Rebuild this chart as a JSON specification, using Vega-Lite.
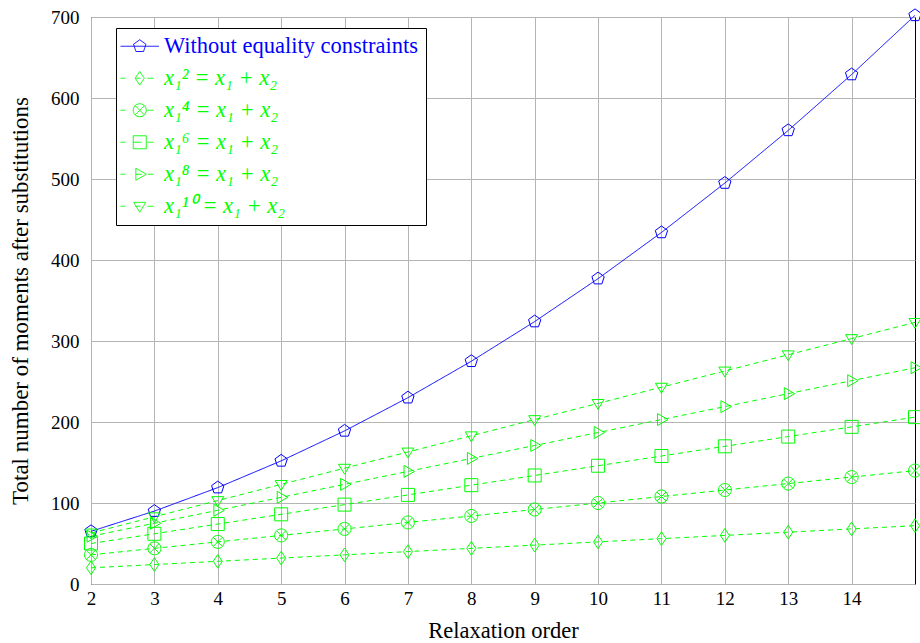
{
  "$schema": "https://vega.github.io/schema/vega-lite/v6.json",
  "width": 824,
  "height": 567,
  "autosize": {"type": "none"},
  "padding": {"left": 91, "top": 17, "right": 5, "bottom": 59},
  "background": "white",
  "config": {
    "view": {"stroke": "black", "strokeWidth": 1},
    "font": "Liberation Serif"
  },
  "data": {
    "values": [
      {"order": 2, "moments": 65, "series": "Without equality constraints"},
      {"order": 3, "moments": 90, "series": "Without equality constraints"},
      {"order": 4, "moments": 119, "series": "Without equality constraints"},
      {"order": 5, "moments": 152, "series": "Without equality constraints"},
      {"order": 6, "moments": 189, "series": "Without equality constraints"},
      {"order": 7, "moments": 230, "series": "Without equality constraints"},
      {"order": 8, "moments": 275, "series": "Without equality constraints"},
      {"order": 9, "moments": 324, "series": "Without equality constraints"},
      {"order": 10, "moments": 377, "series": "Without equality constraints"},
      {"order": 11, "moments": 434, "series": "Without equality constraints"},
      {"order": 12, "moments": 495, "series": "Without equality constraints"},
      {"order": 13, "moments": 560, "series": "Without equality constraints"},
      {"order": 14, "moments": 629, "series": "Without equality constraints"},
      {"order": 15, "moments": 702, "series": "Without equality constraints"},

      {"order": 2, "moments": 20, "series": "x₁² = x₁ + x₂"},
      {"order": 3, "moments": 24, "series": "x₁² = x₁ + x₂"},
      {"order": 4, "moments": 28, "series": "x₁² = x₁ + x₂"},
      {"order": 5, "moments": 32, "series": "x₁² = x₁ + x₂"},
      {"order": 6, "moments": 36, "series": "x₁² = x₁ + x₂"},
      {"order": 7, "moments": 40, "series": "x₁² = x₁ + x₂"},
      {"order": 8, "moments": 44, "series": "x₁² = x₁ + x₂"},
      {"order": 9, "moments": 48, "series": "x₁² = x₁ + x₂"},
      {"order": 10, "moments": 52, "series": "x₁² = x₁ + x₂"},
      {"order": 11, "moments": 56, "series": "x₁² = x₁ + x₂"},
      {"order": 12, "moments": 60, "series": "x₁² = x₁ + x₂"},
      {"order": 13, "moments": 64, "series": "x₁² = x₁ + x₂"},
      {"order": 14, "moments": 68, "series": "x₁² = x₁ + x₂"},
      {"order": 15, "moments": 72, "series": "x₁² = x₁ + x₂"},

      {"order": 2, "moments": 36, "series": "x₁⁴ = x₁ + x₂"},
      {"order": 3, "moments": 44, "series": "x₁⁴ = x₁ + x₂"},
      {"order": 4, "moments": 52, "series": "x₁⁴ = x₁ + x₂"},
      {"order": 5, "moments": 60, "series": "x₁⁴ = x₁ + x₂"},
      {"order": 6, "moments": 68, "series": "x₁⁴ = x₁ + x₂"},
      {"order": 7, "moments": 76, "series": "x₁⁴ = x₁ + x₂"},
      {"order": 8, "moments": 84, "series": "x₁⁴ = x₁ + x₂"},
      {"order": 9, "moments": 92, "series": "x₁⁴ = x₁ + x₂"},
      {"order": 10, "moments": 100, "series": "x₁⁴ = x₁ + x₂"},
      {"order": 11, "moments": 108, "series": "x₁⁴ = x₁ + x₂"},
      {"order": 12, "moments": 116, "series": "x₁⁴ = x₁ + x₂"},
      {"order": 13, "moments": 124, "series": "x₁⁴ = x₁ + x₂"},
      {"order": 14, "moments": 132, "series": "x₁⁴ = x₁ + x₂"},
      {"order": 15, "moments": 140, "series": "x₁⁴ = x₁ + x₂"},

      {"order": 2, "moments": 50, "series": "x₁⁶ = x₁ + x₂"},
      {"order": 3, "moments": 62, "series": "x₁⁶ = x₁ + x₂"},
      {"order": 4, "moments": 74, "series": "x₁⁶ = x₁ + x₂"},
      {"order": 5, "moments": 86, "series": "x₁⁶ = x₁ + x₂"},
      {"order": 6, "moments": 98, "series": "x₁⁶ = x₁ + x₂"},
      {"order": 7, "moments": 110, "series": "x₁⁶ = x₁ + x₂"},
      {"order": 8, "moments": 122, "series": "x₁⁶ = x₁ + x₂"},
      {"order": 9, "moments": 134, "series": "x₁⁶ = x₁ + x₂"},
      {"order": 10, "moments": 146, "series": "x₁⁶ = x₁ + x₂"},
      {"order": 11, "moments": 158, "series": "x₁⁶ = x₁ + x₂"},
      {"order": 12, "moments": 170, "series": "x₁⁶ = x₁ + x₂"},
      {"order": 13, "moments": 182, "series": "x₁⁶ = x₁ + x₂"},
      {"order": 14, "moments": 194, "series": "x₁⁶ = x₁ + x₂"},
      {"order": 15, "moments": 206, "series": "x₁⁶ = x₁ + x₂"},

      {"order": 2, "moments": 59, "series": "x₁⁸ = x₁ + x₂"},
      {"order": 3, "moments": 75, "series": "x₁⁸ = x₁ + x₂"},
      {"order": 4, "moments": 91, "series": "x₁⁸ = x₁ + x₂"},
      {"order": 5, "moments": 107, "series": "x₁⁸ = x₁ + x₂"},
      {"order": 6, "moments": 123, "series": "x₁⁸ = x₁ + x₂"},
      {"order": 7, "moments": 139, "series": "x₁⁸ = x₁ + x₂"},
      {"order": 8, "moments": 155, "series": "x₁⁸ = x₁ + x₂"},
      {"order": 9, "moments": 171, "series": "x₁⁸ = x₁ + x₂"},
      {"order": 10, "moments": 187, "series": "x₁⁸ = x₁ + x₂"},
      {"order": 11, "moments": 203, "series": "x₁⁸ = x₁ + x₂"},
      {"order": 12, "moments": 219, "series": "x₁⁸ = x₁ + x₂"},
      {"order": 13, "moments": 235, "series": "x₁⁸ = x₁ + x₂"},
      {"order": 14, "moments": 251, "series": "x₁⁸ = x₁ + x₂"},
      {"order": 15, "moments": 267, "series": "x₁⁸ = x₁ + x₂"},

      {"order": 2, "moments": 63, "series": "x₁¹⁰ = x₁ + x₂"},
      {"order": 3, "moments": 83, "series": "x₁¹⁰ = x₁ + x₂"},
      {"order": 4, "moments": 103, "series": "x₁¹⁰ = x₁ + x₂"},
      {"order": 5, "moments": 123, "series": "x₁¹⁰ = x₁ + x₂"},
      {"order": 6, "moments": 143, "series": "x₁¹⁰ = x₁ + x₂"},
      {"order": 7, "moments": 163, "series": "x₁¹⁰ = x₁ + x₂"},
      {"order": 8, "moments": 183, "series": "x₁¹⁰ = x₁ + x₂"},
      {"order": 9, "moments": 203, "series": "x₁¹⁰ = x₁ + x₂"},
      {"order": 10, "moments": 223, "series": "x₁¹⁰ = x₁ + x₂"},
      {"order": 11, "moments": 243, "series": "x₁¹⁰ = x₁ + x₂"},
      {"order": 12, "moments": 263, "series": "x₁¹⁰ = x₁ + x₂"},
      {"order": 13, "moments": 283, "series": "x₁¹⁰ = x₁ + x₂"},
      {"order": 14, "moments": 303, "series": "x₁¹⁰ = x₁ + x₂"},
      {"order": 15, "moments": 323, "series": "x₁¹⁰ = x₁ + x₂"}
    ]
  },
  "encoding": {
    "x": {
      "field": "order",
      "type": "quantitative",
      "scale": {"domain": [2, 15], "nice": false, "zero": false},
      "axis": {
        "title": "Relaxation order",
        "values": [2, 3, 4, 5, 6, 7, 8, 9, 10, 11, 12, 13, 14],
        "grid": true,
        "gridColor": "#b4b4b4",
        "gridOpacity": 1,
        "ticks": false,
        "domain": false,
        "labelFont": "Liberation Serif",
        "labelFontSize": 19,
        "labelColor": "black",
        "labelPadding": 5,
        "labelFlush": false,
        "titleFont": "Liberation Serif",
        "titleFontSize": 22.5,
        "titleFontWeight": "normal",
        "titleColor": "black",
        "titlePadding": 11
      }
    },
    "y": {
      "field": "moments",
      "type": "quantitative",
      "scale": {"domain": [0, 700], "nice": false},
      "axis": {
        "title": "Total number of moments after substitutions",
        "values": [0, 100, 200, 300, 400, 500, 600, 700],
        "grid": true,
        "gridColor": "#b4b4b4",
        "gridOpacity": 1,
        "ticks": false,
        "domain": false,
        "labelFont": "Liberation Serif",
        "labelFontSize": 19,
        "labelColor": "black",
        "labelPadding": 12,
        "labelFlush": false,
        "titleFont": "Liberation Serif",
        "titleFontSize": 23,
        "titleFontWeight": "normal",
        "titleColor": "black",
        "titlePadding": 18
      }
    }
  },
  "layer": [
    {
      "mark": {"type": "line", "strokeWidth": 1, "clip": false},
      "encoding": {
        "color": {
          "field": "series",
          "type": "nominal",
          "scale": {
            "domain": ["Without equality constraints", "x₁² = x₁ + x₂", "x₁⁴ = x₁ + x₂", "x₁⁶ = x₁ + x₂", "x₁⁸ = x₁ + x₂", "x₁¹⁰ = x₁ + x₂"],
            "range": ["#0000ff", "#00ff00", "#00ff00", "#00ff00", "#00ff00", "#00ff00"]
          },
          "legend": {
            "orient": "none",
            "legendX": 25,
            "legendY": 11,
            "title": null,
            "fillColor": "white",
            "strokeColor": "black",
            "padding": 7,
            "labelFont": "Liberation Serif",
            "labelFontSize": 22.5,
            "labelLimit": 400,
            "symbolSize": 169,
            "symbolStrokeWidth": 1,
            "symbolDash": [1, 0],
            "symbolOffset": 5.5,
            "labelOffset": 13,
            "rowPadding": 9,
            "encode": {
              "symbols": {
                "update": {
                  "shape": {"signal": "datum.value === 'Without equality constraints' ? 'M-2.95,0L2.95,0M0,-1L0.951,-0.309L0.588,0.809L-0.588,0.809L-0.951,-0.309Z' : datum.value === 'x₁² = x₁ + x₂' ? 'M-2.95,0L-2.2,0M-0.66,0L0.1,0M1.2,0L2.15,0M0,-1.05L0.7,0L0,1.05L-0.7,0Z' : datum.value === 'x₁⁴ = x₁ + x₂' ? 'M-2.95,0L-2.2,0M1.2,0L2.15,0M1,0A1,1,0,1,1,-1,0A1,1,0,1,1,1,0ZM-0.707,-0.707L0.707,0.707M-0.707,0.707L0.707,-0.707' : datum.value === 'x₁⁶ = x₁ + x₂' ? 'M-2.95,0L-2.2,0M-1,0L0.3,0M1.2,0L2.15,0M-1,-1L1,-1L1,1L-1,1Z' : datum.value === 'x₁⁸ = x₁ + x₂' ? 'M-2.95,0L-2.2,0M-0.6,0L0.3,0M1.2,0L2.15,0M1,0L-0.6,-0.92L-0.6,0.92Z' : 'M-2.95,0L-2.2,0M-0.66,0L0.1,0M1.2,0L2.15,0M0,0.92L-0.92,-0.6L0.92,-0.6Z'"},
                  "fill": {"value": "transparent"},
                  "strokeDash": {"value": [1, 0]}
                }
              },
              "labels": {
                "update": {
                  "fill": {"signal": "datum.value === 'Without equality constraints' ? '#0000ff' : '#00ff00'"},
                  "fontStyle": {"signal": "datum.value === 'Without equality constraints' ? 'normal' : 'italic'"}
                }
              }
            }
          }
        },
        "strokeDash": {
          "field": "series",
          "type": "nominal",
          "scale": {
            "domain": ["x₁¹⁰ = x₁ + x₂", "x₁⁸ = x₁ + x₂", "x₁⁶ = x₁ + x₂", "x₁⁴ = x₁ + x₂", "x₁² = x₁ + x₂", "Without equality constraints"],
            "range": [[5, 4], [5, 4], [5, 4], [5, 4], [5, 4], [1, 0]]
          },
          "legend": null
        }
      }
    },
    {
      "mark": {"type": "point", "filled": false, "size": 169, "strokeWidth": 1, "opacity": 1, "clip": false},
      "encoding": {
        "color": {"field": "series", "type": "nominal"},
        "shape": {
          "field": "series",
          "type": "nominal",
          "scale": {
            "domain": ["x₁¹⁰ = x₁ + x₂", "x₁⁸ = x₁ + x₂", "x₁⁶ = x₁ + x₂", "x₁⁴ = x₁ + x₂", "x₁² = x₁ + x₂", "Without equality constraints"],
            "range": [
              "M0,0.92L-0.92,-0.6L0.92,-0.6Z",
              "M1,0L-0.6,-0.92L-0.6,0.92Z",
              "M-1,-1L1,-1L1,1L-1,1Z",
              "M1,0A1,1,0,1,1,-1,0A1,1,0,1,1,1,0ZM-0.707,-0.707L0.707,0.707M-0.707,0.707L0.707,-0.707",
              "M0,-1.05L0.7,0L0,1.05L-0.7,0Z",
              "M0,-1L0.951,-0.309L0.588,0.809L-0.588,0.809L-0.951,-0.309Z"
            ]
          },
          "legend": null
        }
      }
    }
  ]
}
